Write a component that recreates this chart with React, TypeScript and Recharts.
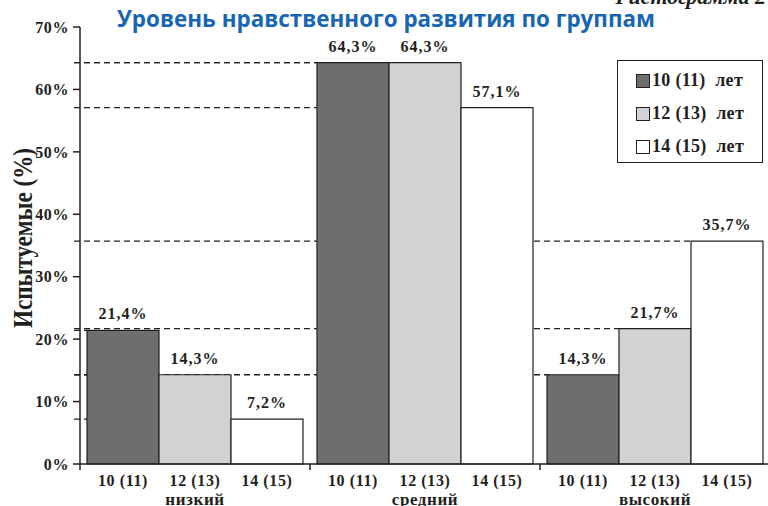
import React from "react";
import { BarChart, Bar, XAxis, YAxis, LabelList } from "recharts";

const groups = ["низкий", "средний", "высокий"];
const ageLabels = ["10 (11)", "12 (13)", "14 (15)"];
const age10 = [21.4, 64.3, 14.3];
const age12 = [14.3, 64.3, 21.7];
const age14 = [7.2, 57.1, 35.7];
const yTicks = [0, 10, 20, 30, 40, 50, 60, 70];

const SERIES = [
  { key: "a10", name: "10 (11)  лет", fill: "#6d6e70" },
  { key: "a12", name: "12 (13)  лет", fill: "#d1d2d4" },
  { key: "a14", name: "14 (15)  лет", fill: "#ffffff" },
];

const data = groups.map((g, i) => ({
  group: g,
  a10: age10[i],
  a12: age12[i],
  a14: age14[i],
}));

// px gap on each side of a group inside its band
const CAT_GAP = 7;
const Y_AXIS_W = 80;

const SERIF = "'Liberation Serif', 'Times New Roman', serif";
const INK = "#231f20";

const fmt = (v: number) => `${String(v).replace(".", ",")}%`;

// dashed guide from the y axis to the left side of a bar (drawn behind the real bars)
const DashShape = (props: any) => {
  const { x, y } = props;
  if (x == null || y == null) return null;
  return (
    <line
      x1={Y_AXIS_W - 6}
      y1={y}
      x2={x + 3}
      y2={y}
      stroke={INK}
      strokeWidth={1.3}
      strokeDasharray="6 4"
    />
  );
};

const GroupTick = (props: any) => {
  const { x, y, payload } = props;
  const half = payload.offset ?? 115;
  const bw = Math.floor((half * 2 - 2 * CAT_GAP) / 3);
  const last = payload.index === groups.length - 1;
  return (
    <g fontFamily={SERIF} fontWeight="bold" fill={INK}>
      <line x1={x - half} y1={y} x2={x - half} y2={y + 6} stroke={INK} strokeWidth={1.5} />
      {last && <line x1={x + half} y1={y} x2={x + half} y2={y + 6} stroke={INK} strokeWidth={1.5} />}
      {ageLabels.map((t, i) => (
        <text key={t} x={x + (i - 1) * bw} y={y + 22} textAnchor="middle" fontSize={16} letterSpacing={0.6}>
          {t}
        </text>
      ))}
      <text x={x} y={y + 41} textAnchor="middle" fontSize={17} letterSpacing={0.6}>
        {payload.value}
      </text>
    </g>
  );
};

const LegendBox = () => (
  <div
    style={{
      position: "absolute",
      left: 617,
      top: 60,
      width: 146,
      height: 103,
      border: `1.5px solid ${INK}`,
      background: "#fff",
      fontFamily: SERIF,
      fontWeight: "bold",
      fontSize: 18,
      color: INK,
      padding: "3px 0 0 18px",
      boxSizing: "border-box",
    }}
  >
    {SERIES.map((s) => (
      <div key={s.key} style={{ display: "flex", alignItems: "center", height: 33, whiteSpace: "pre", letterSpacing: 0.3 }}>
        <span
          style={{
            width: 12,
            height: 12,
            background: s.fill,
            border: `1px solid ${INK}`,
            marginRight: 2,
            display: "inline-block",
          }}
        />
        {s.name}
      </div>
    ))}
  </div>
);

export default function App() {
  return (
    <div style={{ position: "absolute", left: 0, top: 0, width: 768, height: 506, overflow: "hidden", background: "#fff" }}>
      <BarChart
        width={768}
        height={506}
        data={data}
        margin={{ top: 27, right: -2, bottom: 0, left: 0 }}
        barGap={0}
        barCategoryGap={CAT_GAP}
      >
        <XAxis
          dataKey="group"
          height={42}
          axisLine={{ stroke: INK, strokeWidth: 1.5 }}
          tickLine={false}
          tickSize={0}
          tickMargin={0}
          tick={<GroupTick />}
          interval={0}
        />
        <XAxis xAxisId="guides" dataKey="group" hide />
        <YAxis
          width={Y_AXIS_W}
          domain={[0, 70]}
          ticks={yTicks}
          tickFormatter={(v: number) => `${v}%`}
          axisLine={{ stroke: INK, strokeWidth: 1.5 }}
          tickLine={{ stroke: INK, strokeWidth: 1.5 }}
          tickSize={7}
          tickMargin={4}
          tick={{ fontFamily: SERIF, fontWeight: "bold", fontSize: 16, fill: INK, letterSpacing: 0.6 }}
        />
        {SERIES.map((s) => (
          <Bar
            key={`guide-${s.key}`}
            xAxisId="guides"
            dataKey={s.key}
            shape={<DashShape />}
            isAnimationActive={false}
            legendType="none"
          />
        ))}
        {SERIES.map((s) => (
          <Bar
            key={s.key}
            dataKey={s.key}
            name={s.name}
            fill={s.fill}
            stroke={INK}
            strokeWidth={1.2}
            isAnimationActive={false}
          >
            <LabelList
              dataKey={s.key}
              position="top"
              offset={11}
              formatter={(v: any) => fmt(v)}
              style={{ fontFamily: SERIF, fontWeight: "bold", fontSize: 16, fill: INK, letterSpacing: 1 }}
            />
          </Bar>
        ))}
      </BarChart>
      <LegendBox />
      <svg
        width={768}
        height={506}
        style={{ position: "absolute", left: 0, top: 0, pointerEvents: "none" }}
      >
        <text
          x={117}
          y={27}
          textLength={538}
          lengthAdjust="spacingAndGlyphs"
          fontFamily="'Open Sans', 'Noto Sans', sans-serif"
          fontWeight="bold"
          fontSize={23}
          fill="#1766b1"
        >
          Уровень нравственного развития по группам
        </text>
        <text
          x={766}
          y={4}
          textAnchor="end"
          fontFamily={SERIF}
          fontStyle="italic"
          fontWeight="bold"
          fontSize={22}
          fill={INK}
        >
          Гистограмма 2
        </text>
        <text
          transform="translate(32 238) rotate(-90)"
          textAnchor="middle"
          textLength={180}
          lengthAdjust="spacingAndGlyphs"
          fontFamily={SERIF}
          fontWeight="bold"
          fontSize={28}
          fill={INK}
        >
          Испытуемые (%)
        </text>
      </svg>
    </div>
  );
}
